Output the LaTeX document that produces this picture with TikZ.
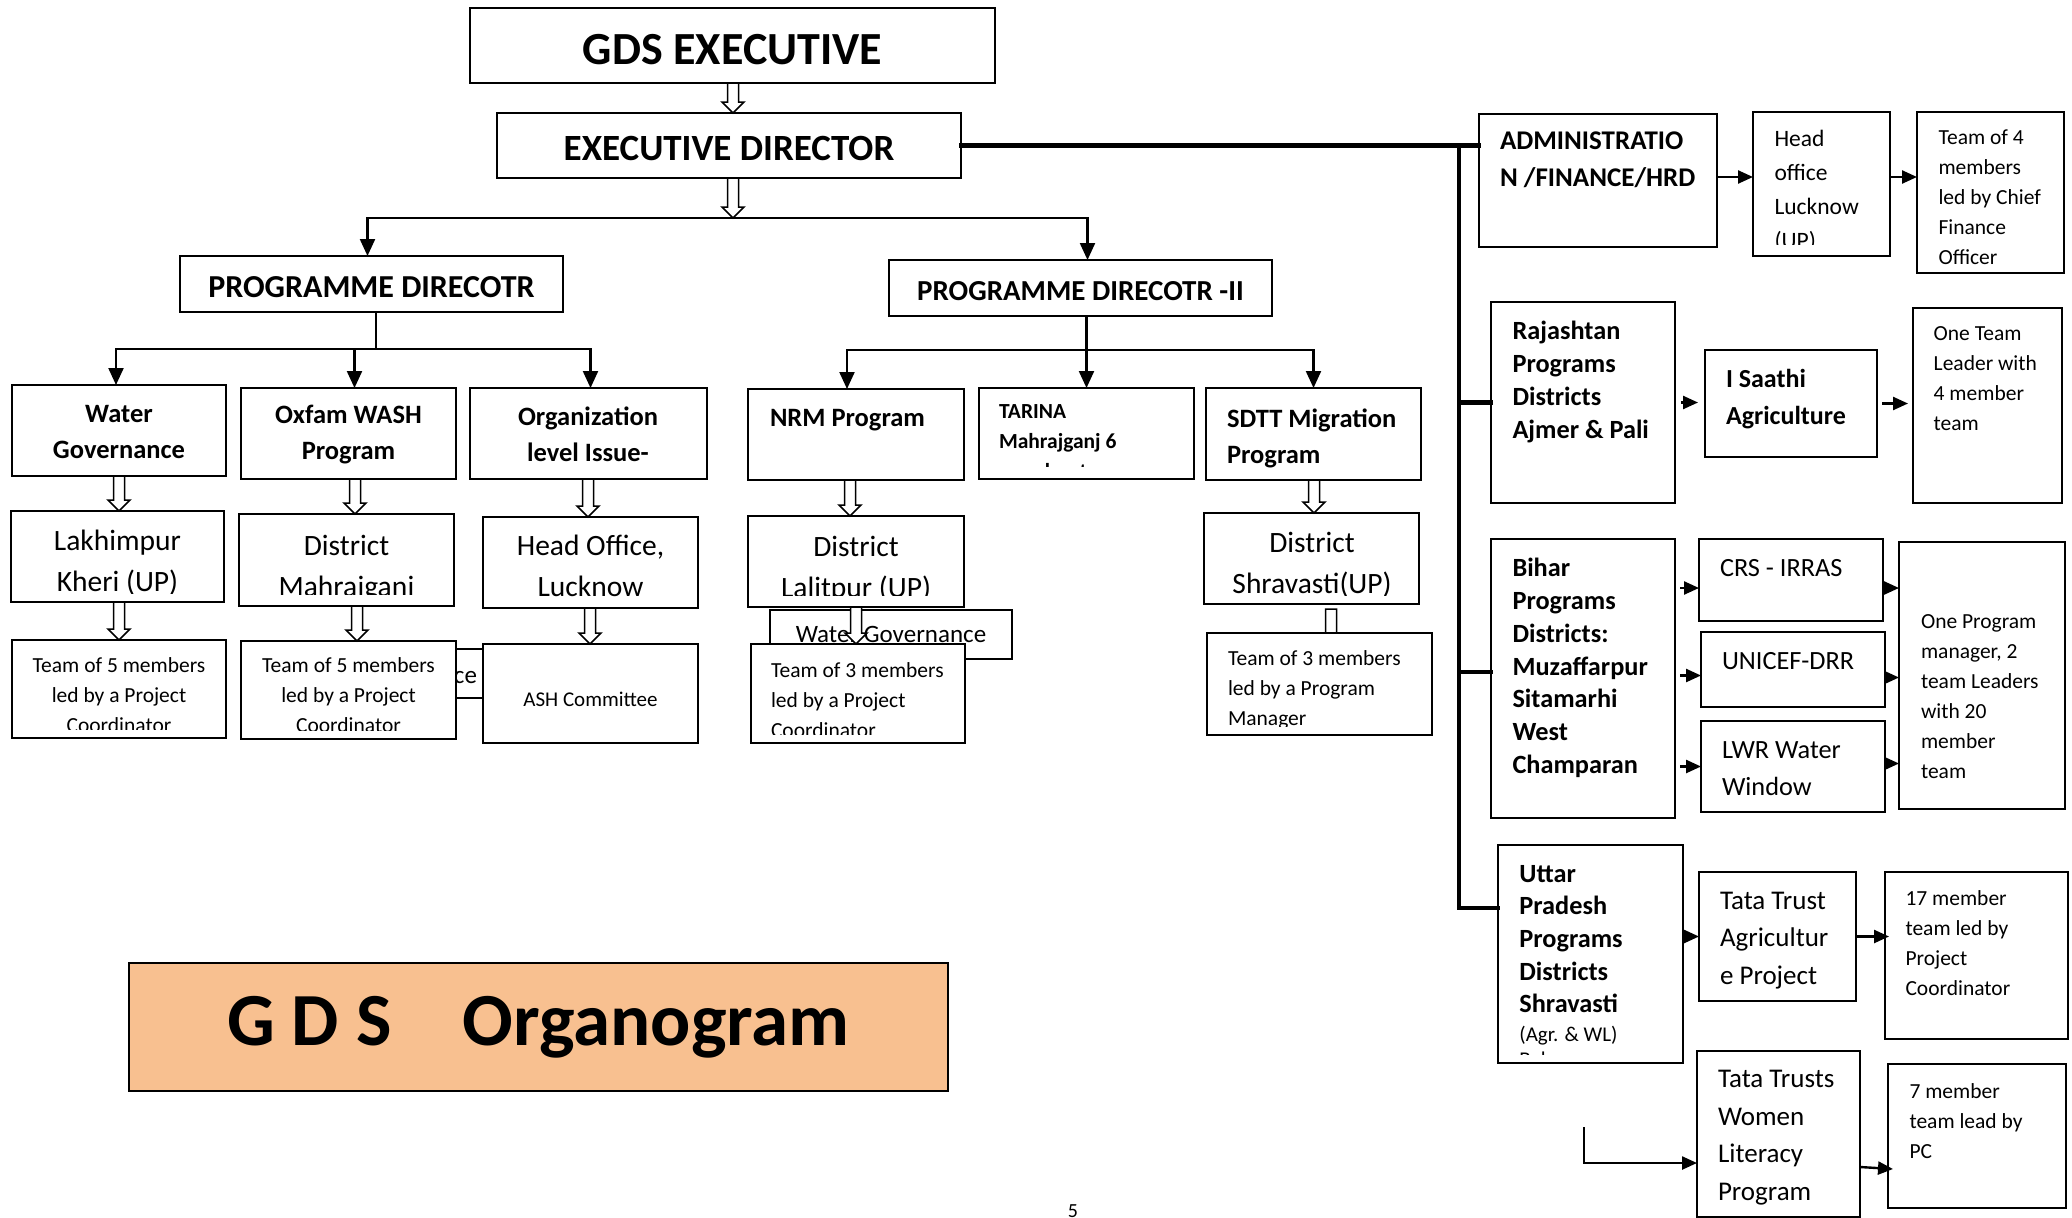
\documentclass[tikz,border=0pt]{standalone}
\usepackage{fontspec}
\setmainfont{Carlito}
\usetikzlibrary{arrows.meta,calc}
\definecolor{peach}{RGB}{248,192,144}

\newcommand\obox[6][]{%
  \node[bx,#1,minimum width={#5pt-#3pt},minimum height={#6pt-#4pt}] (#2) at ({(#3+#5)/2},{(#4+#6)/2}) {};}
\newcommand\otxt[6][9]{%
  \begin{scope}
    \clip ([shift={(3,3)}]#2.north west) rectangle ([shift={(-3,-#1)}]#2.south east);
    \node[tx,anchor=#3,#5] (#2-t) at #4 {#6};
  \end{scope}}
\newcommand\harr[3]{%
  \draw[hol] let \p1=#1, \p2=#2 in
    (#3pt-5.5pt,\y1) -- (#3pt-5.5pt,\y2+11pt) -- (#3pt-11pt,\y2+11pt) -- (#3pt,\y2)
    -- (#3pt+11pt,\y2+11pt) -- (#3pt+5.5pt,\y2+11pt) -- (#3pt+5.5pt,\y1) -- cycle;}

\begin{document}
\begin{tikzpicture}[x=1pt,y=-1pt,
  bx/.style={draw, line width=1.6pt, fill=white, inner sep=0pt, outer sep=0pt},
  tx/.style={inner sep=0pt, outer sep=0pt},
  ln/.style={line width=2.2pt, line cap=rect},
  arr/.style={line width=2.2pt, -{Triangle[length=17pt,width=15pt]}},
  sarr/.style={line width=2.4pt, -{Triangle[length=15pt,width=13pt]}},
  thk/.style={line width=4.5pt, line cap=rect, line join=miter},
  hol/.style={line width=1.5pt, fill=white, line join=miter},
  hb/.style={font=\bfseries\fontsize{26.5}{36}\selectfont},
  dist/.style={font=\fontsize{29.5}{41}\selectfont, align=center},
  team/.style={font=\fontsize{21.5}{30}\selectfont},
  rb/.style={font=\bfseries\fontsize{26.3}{32.7}\selectfont, align=left},
  rm/.style={font=\fontsize{26.3}{36.7}\selectfont, align=left},
  rl/.style={font=\fontsize{27}{37.5}\selectfont, align=left},
  wgf/.style={font=\fontsize{25}{30}\selectfont}]
\useasboundingbox (0,0) rectangle (2072,1218);
\fill[white] (0,0) rectangle (2072,1218);

% top
\obox{gds}{470}{8}{995}{83}
\node[tx,font=\bfseries\fontsize{46}{52}\selectfont] (gds-t) at (732.5,50) {GDS EXECUTIVE};
\obox{ed}{497}{113}{961}{178}
\node[tx,font=\bfseries\fontsize{37}{44}\selectfont] (ed-t) at (729,148.5) {EXECUTIVE DIRECTOR};
\obox{pd}{180}{256}{563}{312}
\node[tx,font=\bfseries\fontsize{32}{36}\selectfont] (pd-t) at (371.5,287.5) {PROGRAMME DIRECOTR};
\obox{pd2}{889}{260}{1272}{316}
\node[tx,font=\bfseries\fontsize{29}{36}\selectfont] (pd2-t) at (1080.5,291) {PROGRAMME DIRECOTR -II};

% row 1
\obox{water}{12}{385}{226}{476}
\otxt{water}{north}{(119,405)}{hb,align=center}{Water\\Governance}
\obox{oxfam}{241}{388}{456}{479}
\otxt{oxfam}{north}{(348.5,405)}{hb,align=center}{Oxfam WASH\\Program}
\obox{org}{470}{388}{707}{479}
\otxt{org}{north}{(588,407)}{hb,align=center}{Organization\\level Issue-}
\obox{nrm}{748}{389}{964}{480}
\otxt{nrm}{north west}{(770,409)}{hb,align=left}{NRM Program}
\obox{tarina}{979}{388}{1194}{479}
\otxt[13]{tarina}{north west}{(999,405)}{font=\bfseries\fontsize{21.5}{30}\selectfont,align=left}{TARINA\\Mahrajganj 6\\member team}
\obox{sdtt}{1206}{388}{1421}{480}
\otxt{sdtt}{north west}{(1227,409)}{hb,align=left}{SDTT Migration\\Program}

% row 2
\obox{lakh}{11}{511}{224}{602}
\otxt{lakh}{north}{(117.5,530)}{dist}{Lakhimpur\\Kheri (UP)}
\obox{mahr}{239}{514}{454}{606}
\otxt[12]{mahr}{north}{(346.5,535)}{dist}{District\\Mahrajganj}
\obox{hoff}{483}{517}{698}{608}
\otxt{hoff}{north}{(590.5,535)}{dist}{Head Office,\\Lucknow}
\obox{lalit}{748}{516}{964}{607}
\otxt[12]{lalit}{north}{(856,536)}{dist}{District\\Lalitpur (UP)}
\obox{shrav}{1204}{513}{1419}{604}
\otxt{shrav}{north}{(1312,532)}{dist}{District\\Shravasti(UP)}

% boxes partly hidden
\obox{wgh}{260}{649}{502}{698}
\otxt{wgh}{base east}{(477,683)}{wgf}{ce}
\obox{wgn}{770}{610}{1012}{659}
\otxt{wgn}{base}{(891,642)}{wgf}{Water Governance}
\coordinate (shravstub) at (1331,662);
\harr{([yshift=-5]shrav.south)}{(shravstub)}{1331}

% row 3
\obox{team5l}{12}{640}{226}{738}
\otxt{team5l}{north}{(119,658)}{team,align=center}{Team of 5 members\\led by a Project\\Coordinator}
\obox{team5m}{241}{641}{456}{739}
\otxt{team5m}{north}{(348.5,658)}{team,align=center}{Team of 5 members\\led by a Project\\Coordinator}
\obox{ash}{483}{644}{698}{743}
\node[tx,font=\fontsize{21}{24}\selectfont] (ash-t) at (590.5,699) {ASH Committee};
\obox{team3n}{751}{644}{965}{743}
\otxt{team3n}{north west}{(771,663)}{team,align=left}{Team of 3 members\\led by a Project\\Coordinator}
\obox{team3s}{1207}{633}{1432}{735}
\otxt{team3s}{north west}{(1228,651)}{team,align=left}{Team of 3 members\\led by a Program\\Manager}

% right side
\obox{admin}{1479}{114}{1717}{247}
\otxt{admin}{north west}{(1500,132)}{font=\bfseries\fontsize{27}{37}\selectfont,align=left}{ADMINISTRATIO\\N /FINANCE/HRD}
\obox{hoffr}{1753}{112}{1890}{256}
\otxt[12]{hoffr}{north west}{(1774.5,130)}{font=\fontsize{23.5}{34}\selectfont,align=left}{Head\\office\\Lucknow\\(UP)}
\obox{team4}{1917}{112}{2064}{273}
\otxt{team4}{north west}{(1938.5,130)}{team,align=left}{Team of 4\\members\\led by Chief\\Finance\\Officer}
\obox{raj}{1491}{302}{1675}{503}
\otxt{raj}{north west}{(1512.5,321.5)}{rb}{Rajashtan\\Programs\\Districts\\Ajmer \& Pali}
\obox{isaathi}{1705}{350}{1877}{457}
\otxt{isaathi}{north west}{(1726,369.5)}{font=\bfseries\fontsize{26}{37}\selectfont,align=left}{I Saathi\\Agriculture}
\obox{oneteam}{1913}{308}{2062}{503}
\otxt{oneteam}{north west}{(1933.7,326.7)}{team,align=left}{One Team\\Leader with\\4 member\\team}
\obox{bihar}{1491}{539}{1675}{818}
\otxt{bihar}{north west}{(1512.5,558.5)}{rb}{Bihar\\Programs\\Districts:\\Muzaffarpur\\Sitamarhi\\West\\Champaran}
\obox{crs}{1699}{539}{1883}{621}
\otxt{crs}{north west}{(1720,559)}{rm}{CRS - IRRAS}
\obox{unicef}{1701}{632}{1885}{707}
\otxt{unicef}{north west}{(1722,652)}{rm}{UNICEF-DRR}
\obox{lwr}{1701}{721}{1885}{812}
\otxt{lwr}{north west}{(1722,741.7)}{rm}{LWR Water\\Window}
\obox{oneprog}{1899}{542}{2065}{809}
\otxt{oneprog}{north west}{(1921,615)}{team,align=left}{One Program\\manager, 2\\team Leaders\\with 20\\member\\team}
\obox{uttar}{1498}{845}{1683}{1063}
\otxt{uttar}{north west}{(1519.4,865)}{rb}{Uttar\\Pradesh\\Programs\\Districts\\Shravasti\\[-4.5pt]{\mdseries\fontsize{21}{26}\selectfont (Agr. \& WL)}\\[-7.5pt]{\mdseries\fontsize{21}{26}\selectfont Balrampur}}
\obox{tagri}{1699}{872}{1856}{1001}
\otxt{tagri}{north west}{(1720,892)}{rl}{Tata Trust\\Agricultur\\e Project}
\obox{m17}{1885}{872}{2068}{1039}
\otxt{m17}{north west}{(1905.5,891)}{team,align=left}{17 member\\team led by\\Project\\Coordinator}
\obox{twomen}{1697}{1051}{1860}{1217}
\otxt{twomen}{north west}{(1718,1070.5)}{rl}{Tata Trusts\\Women\\Literacy\\Program}
\obox{m7}{1888}{1064}{2066}{1208}
\otxt{m7}{north west}{(1909.5,1084)}{team,align=left}{7 member\\team lead by\\PC}

% title box and page number
\obox[fill=peach,line width=2pt]{organo}{129}{963}{948}{1091}
\node[tx,font=\bfseries\fontsize{75}{82}\selectfont] (organo-t) at (538.5,1027) {G D S\hspace{0.95em}Organogram};
\node[tx,font=\fontsize{20}{24}\selectfont,anchor=base] (page) at (1073,1217) {5};

% top connectors
\coordinate (edbar) at (733,218);
\harr{(gds.south)}{(ed.north)}{733}
\harr{(ed.south)}{(edbar)}{733}
\draw[ln] ([xshift=-4]pd.north |- edbar) -- ([xshift=7]pd2.north |- edbar);
\draw[arr] ([xshift=-4]pd.north |- edbar) -- ([xshift=-4]pd.north);
\draw[arr] ([xshift=7]pd2.north |- edbar) -- ([xshift=7]pd2.north);

% programme director I
\coordinate (pdbar) at (376,349);
\draw[ln] (pd.south -| pdbar) -- (pdbar);
\draw[ln] ([xshift=-3]water.north |- pdbar) -- ([xshift=2]org.north |- pdbar);
\draw[arr] ([xshift=-3]water.north |- pdbar) -- ([xshift=-3]water.north);
\draw[arr] ([xshift=6]oxfam.north |- pdbar) -- ([xshift=6]oxfam.north);
\draw[arr] ([xshift=2]org.north |- pdbar) -- ([xshift=2]org.north);

% programme director II
\coordinate (pd2bar) at (1087,350);
\draw[arr] (pd2.south -| tarina.north) -- (tarina.north);
\draw[ln] ([xshift=-9]nrm.north |- pd2bar) -- (sdtt.north |- pd2bar);
\draw[arr] ([xshift=-9]nrm.north |- pd2bar) -- ([xshift=-9]nrm.north);
\draw[arr] (sdtt.north |- pd2bar) -- (sdtt.north);

% hollow arrows
\harr{(water.south)}{(lakh.north)}{119}
\harr{(lakh.south)}{(team5l.north)}{119}
\harr{(oxfam.south)}{(mahr.north)}{355}
\harr{(mahr.south)}{(team5m.north)}{357}
\harr{(org.south)}{(hoff.north)}{588}
\harr{(hoff.south)}{(ash.north)}{590}
\harr{(nrm.south)}{(lalit.north)}{850}
\harr{(lalit.south)}{(team3n.north)}{856}
\harr{(sdtt.south)}{(shrav.north)}{1314}

% right trunk
\coordinate (vtop) at (1459,145.5);
\coordinate (vbot) at (1459,908);
\coordinate (bj) at (1459,672);
\draw[thk] (ed.east) -- (ed.east -| admin.west);
\draw[thk] (vtop) -- (vbot) -- (vbot -| uttar.west);
\draw[thk] (vtop |- raj.west) -- (raj.west);
\draw[thk] (bj) -- (bj -| bihar.west);

% right arrows
\coordinate (ya) at (1600,177);
\draw[sarr] (admin.east |- ya) -- (hoffr.west |- ya);
\draw[sarr] (hoffr.east |- ya) -- (team4.west |- ya);
\draw[sarr] ([xshift=6]raj.east) -- ([xshift=-7]isaathi.west |- raj.east);
\draw[sarr] ([xshift=5]isaathi.east) -- ([xshift=-5]oneteam.west |- isaathi.east);
\draw[sarr] ([xshift=5,yshift=-8]bihar.east |- crs.west) -- ([yshift=-8]crs.west);
\draw[sarr] ([xshift=5,yshift=-6]bihar.east |- unicef.west) -- ([yshift=-6]unicef.west);
\draw[sarr] ([xshift=5]bihar.east |- lwr.west) -- (lwr.west);
\draw[sarr] ([yshift=-8]crs.east) -- ([yshift=-8]oneprog.west |- crs.east);
\draw[sarr] ([yshift=-8]unicef.east) -- ([yshift=-8]oneprog.west |- unicef.east);
\draw[sarr] ([yshift=3]lwr.east) -- ([yshift=3]oneprog.west |- lwr.east);
\draw[sarr] (uttar.east |- tagri.west) -- (tagri.west);
\draw[sarr] (tagri.east) -- ([xshift=4]m17.west |- tagri.east);
\coordinate (lstart) at (1584,1127);
\draw[sarr] (lstart) |- ([yshift=-29]twomen.west);
\draw[sarr] ([yshift=-33]twomen.east) -- ([yshift=-35,xshift=5]m7.west |- twomen.east);
\end{tikzpicture}
\end{document}
